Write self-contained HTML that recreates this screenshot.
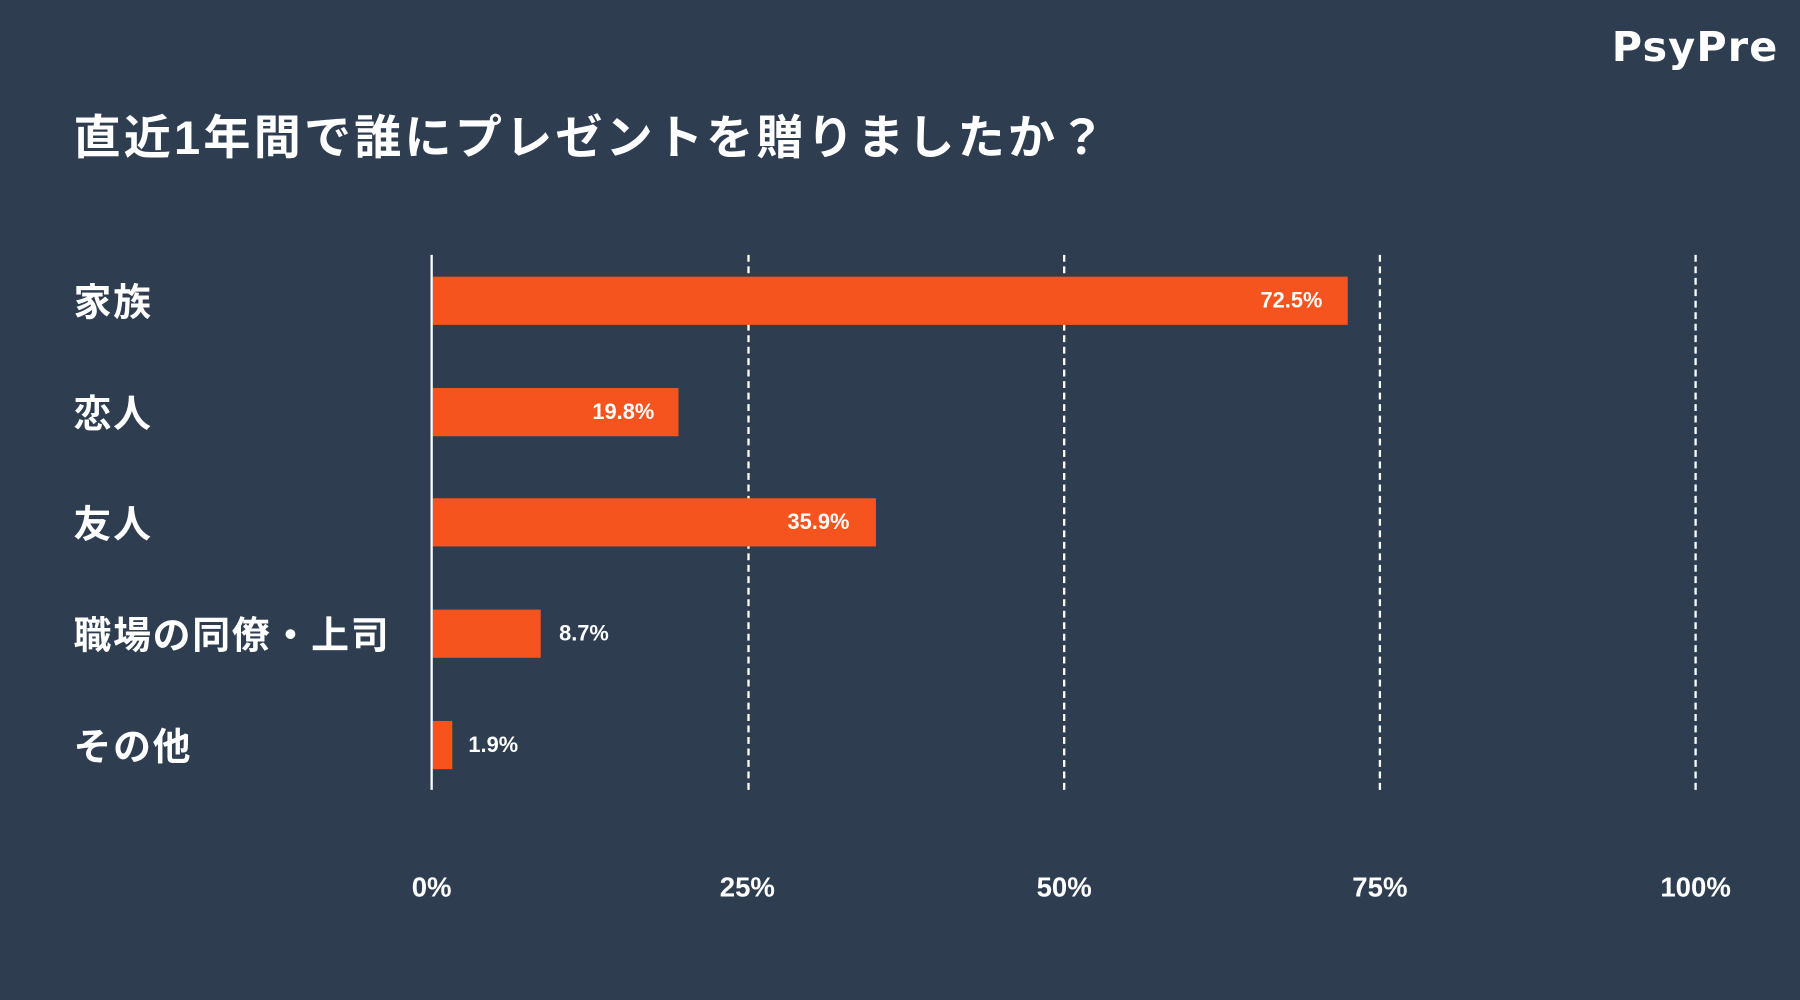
<!DOCTYPE html>
<html><head><meta charset="utf-8"><style>
html,body{margin:0;padding:0;width:1800px;height:1000px;overflow:hidden;background:#2e3e50;}
#w{position:absolute;left:0;top:0;width:1568px;height:871px;transform:scale(1.148);transform-origin:0 0;font-family:"Liberation Sans","Noto Sans CJK JP",sans-serif;color:#fff;font-weight:bold;}
.a{position:absolute;white-space:nowrap;}
.bar{position:absolute;background:#f5541f;height:42px;left:377px;}
.grid{position:absolute;top:222px;height:466px;border-left:2px dashed #fff;width:0;}
.lab{position:absolute;left:64px;font-size:33px;line-height:42px;margin-top:2px;letter-spacing:1.5px;}
.v{position:absolute;font-size:19px;line-height:42px;margin-top:1px;}
.t{position:absolute;top:760px;font-size:24px;width:100px;margin-left:-50px;text-align:center;}
</style></head><body><div id="w">
<div class="a" style="left:1404px;top:21px;font-size:36px;font-family:'DejaVu Sans','Liberation Sans',sans-serif;letter-spacing:1px;">PsyPre</div>
<div class="a" style="left:64px;top:86px;font-size:41px;letter-spacing:2.8px;">直近1年間で誰にプレゼントを贈りましたか？</div>
<div class="grid" style="left:651px"></div>
<div class="grid" style="left:926px"></div>
<div class="grid" style="left:1201px"></div>
<div class="grid" style="left:1476px"></div>
<div class="bar" style="top:241px;width:797px"></div>
<div class="bar" style="top:338px;width:214px"></div>
<div class="bar" style="top:434px;width:386px"></div>
<div class="bar" style="top:531px;width:94px"></div>
<div class="bar" style="top:628px;width:17px"></div>
<div style="position:absolute;left:375px;top:222px;width:2px;height:466px;background:#fff"></div>
<div class="lab" style="top:241px">家族</div>
<div class="lab" style="top:338px">恋人</div>
<div class="lab" style="top:434px">友人</div>
<div class="lab" style="top:531px">職場の同僚・上司</div>
<div class="lab" style="top:628px">その他</div>
<div class="v" style="top:241px;left:1098px">72.5%</div>
<div class="v" style="top:338px;left:516px">19.8%</div>
<div class="v" style="top:434px;left:686px">35.9%</div>
<div class="v" style="top:531px;left:487px">8.7%</div>
<div class="v" style="top:628px;left:408px">1.9%</div>
<div class="t" style="left:376px">0%</div>
<div class="t" style="left:651px">25%</div>
<div class="t" style="left:927px">50%</div>
<div class="t" style="left:1202px">75%</div>
<div class="t" style="left:1477px">100%</div>
</div></body></html>
